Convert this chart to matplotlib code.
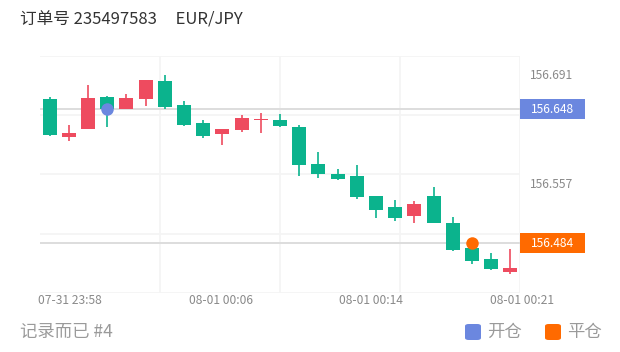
import matplotlib
matplotlib.use("Agg")
import matplotlib.pyplot as plt
from matplotlib.patches import Rectangle, FancyBboxPatch
from matplotlib.transforms import blended_transform_factory
import numpy as np

plt.rcParams['font.family'] = ['Noto Sans CJK SC', 'DejaVu Sans']

# ---------------- data ----------------
title_text = "订单号 235497583     EUR/JPY"
footer_text = "记录而已 #4"
legend_labels = ["开仓", "平仓"]

opens = [156.660, 156.614, 156.624, 156.663, 156.648, 156.660, 156.682, 156.653,
         156.631, 156.617, 156.622, 156.634, 156.634, 156.626, 156.581, 156.569,
         156.566, 156.541, 156.528, 156.517, 156.542, 156.509, 156.478, 156.465,
         156.448]
closes = [156.616, 156.619, 156.661, 156.648, 156.661, 156.683, 156.651, 156.628,
          156.615, 156.624, 156.637, 156.636, 156.627, 156.579, 156.568, 156.562,
          156.540, 156.524, 156.515, 156.532, 156.509, 156.476, 156.462, 156.452,
          156.454]
highs = [156.663, 156.628, 156.678, 156.664, 156.666, 156.683, 156.690, 156.658,
         156.634, 156.624, 156.641, 156.643, 156.642, 156.628, 156.596, 156.575,
         156.579, 156.542, 156.537, 156.535, 156.552, 156.516, 156.480, 156.472,
         156.477]
lows = [156.615, 156.609, 156.624, 156.626, 156.648, 156.652, 156.648, 156.627,
        156.612, 156.604, 156.620, 156.619, 156.626, 156.566, 156.563, 156.561,
        156.538, 156.515, 156.511, 156.509, 156.509, 156.474, 156.458, 156.451,
        156.446]

open_index, open_price = 3, 156.648
close_index, close_price = 22, 156.484

y_tick_values = [156.691, 156.557]
y_tick_labels = ["156.691", "156.557"]
x_tick_labels = ["07-31 23:58", "08-01 00:06", "08-01 00:14", "08-01 00:21"]
x_tick_pos = [1.06, 8.91, 16.76, 24.6]

# ---------------- style ----------------
UP = '#EE4B5F'
DOWN = '#0BB38D'
BLUE = '#6B87DF'
ORANGE = '#FF6A00'
W, H = 620, 352

fig = plt.figure(figsize=(W / 100, H / 100), dpi=100)
ax = fig.add_axes([40 / W, (H - 293) / H, 480 / W, (293 - 56) / H])
ymin, ymax = 156.4228, 156.7129
ax.set_xlim(-0.5, 24.5)
ax.set_ylim(ymin, ymax)
for s in ax.spines.values():
    s.set_visible(False)

# grid
for gy in np.linspace(ymin, ymax, 5):
    ax.axhline(gy, color='#F4F4F4', lw=1.2, zorder=0)
for gx in [5.75, 12.0, 18.25, 24.5]:
    ax.axvline(gx, color='#F4F4F4', lw=1.2, zorder=0)

# price lines
ax.axhline(open_price, color='#DDDDDD', lw=1.4, zorder=1)
ax.axhline(close_price, color='#DDDDDD', lw=1.4, zorder=1)

# candles
x = np.arange(len(opens))
o = np.array(opens); c = np.array(closes)
colors = [UP if cc >= oo else DOWN for oo, cc in zip(o, c)]
ax.vlines(x, lows, highs, colors=colors, lw=1.2, zorder=2)
bottoms = np.minimum(o, c)
heights = np.maximum(np.abs(c - o), 0.0018)
ax.bar(x, heights, bottom=bottoms, width=0.73, color=colors, zorder=3,
       edgecolor='none')

# markers
ax.plot([open_index], [open_price], 'o', color=BLUE, ms=9, zorder=5, mec='none')
ax.plot([close_index], [close_price], 'o', color=ORANGE, ms=9, zorder=5, mec='none')

# y ticks
ax.yaxis.tick_right()
ax.set_yticks(y_tick_values)
ax.set_yticklabels(y_tick_labels)
ax.tick_params(axis='y', length=0, pad=7.5, labelcolor='#8A8A8A', labelsize=8.7)
ax.set_xticks([])

# price boxes
bt = blended_transform_factory(ax.transAxes, ax.transData)
half = 10 / 817
for price, col in [(open_price, BLUE), (close_price, ORANGE)]:
    ax.add_patch(Rectangle((1.0, price - half), 65 / 480, 2 * half, transform=bt,
                           facecolor=col, edgecolor='none', clip_on=False, zorder=6))
    ax.text(1.0 + 33 / 480, price, f"{price:.3f}", transform=bt, ha='center',
            va='center', color='white', fontsize=8.7, zorder=7, clip_on=False)

# x labels
xt = blended_transform_factory(ax.transData, ax.transAxes)
for pos, lab in zip(x_tick_pos, x_tick_labels):
    ax.text(pos, -7 / 237, lab, transform=xt, ha='center', va='center',
            color='#8A8A8A', fontsize=8.7, clip_on=False)

# title
fig.text(20 / W, 1 - 20 / H, title_text, ha='left', va='center', color='#333333',
         fontsize=12)

# footer
fig.text(20 / W, 1 - 332 / H, footer_text, ha='left', va='center', color='#9A9A9A',
         fontsize=12.5)
for lx, col, lab in [(465, BLUE, legend_labels[0]), (545, ORANGE, legend_labels[1])]:
    fig.patches.append(FancyBboxPatch((lx / W, (H - 340) / H), 16 / W, 16 / H,
                                      boxstyle="round,pad=0,rounding_size=0.006",
                                      transform=fig.transFigure, facecolor=col,
                                      edgecolor='none', figure=fig))
    fig.text((lx + 22) / W, 1 - 332 / H, lab, ha='left', va='center',
             color='#9A9A9A', fontsize=12.5)

fig.savefig('out.png', dpi=100)
